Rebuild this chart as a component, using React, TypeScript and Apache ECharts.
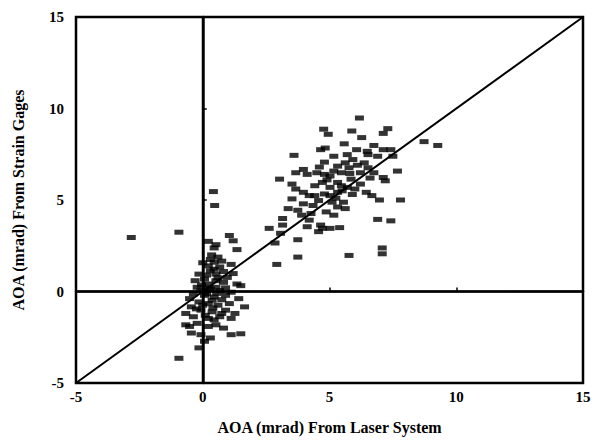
import React, { useEffect, useRef } from "react";
import * as echarts from "echarts";

const xTicks = [-5, 0, 5, 10, 15];
const yTicks = [-5, 0, 5, 10, 15];
const xLabel = "AOA (mrad) From Laser System";
const yLabel = "AOA (mrad) From Strain Gages";

// Near-zero cluster [laser, gages]
const clusterLow: number[][] = [
  [0.22, 2.74], [0.52, 2.56], [0.45, 2.38], [1.05, 3.06], [1.2, 2.77], [1.35, 2.29],
  [0.6, 1.88], [0.75, 1.66], [1.12, 1.48], [0.0, 1.57], [0.22, 1.4], [0.45, 1.22],
  [0.82, 1.09], [1.2, 0.98], [-0.15, 0.95], [0.07, 0.68], [0.52, 0.59], [0.82, 0.5],
  [1.35, 0.41], [1.5, 0.32], [-0.22, 0.23], [0.3, 0.14], [0.67, 0.05], [1.12, -0.04],
  [-0.37, -0.13], [0.07, -0.21], [0.45, -0.3], [0.9, -0.21], [-0.52, -0.39], [1.42, -0.39],
  [-0.15, -0.57], [0.22, -0.66], [0.6, -0.75], [1.05, -0.66], [1.65, -0.84], [-0.07, -1.02],
  [0.37, -1.11], [0.75, -1.2], [-0.67, -1.2], [-0.37, -1.38], [0.22, -1.47], [0.67, -1.38],
  [1.12, -1.47], [-0.67, -1.82], [-0.22, -1.74], [0.22, -1.91], [0.82, -2.0], [-0.45, -2.27],
  [-0.07, -2.36], [1.12, -2.36], [1.5, -2.31], [0.07, -2.72], [0.3, -2.54], [-0.15, -3.08],
  [-0.52, -1.91], [0.52, 0.23], [0.22, 0.41], [-0.07, 0.05], [0.15, -0.13], [0.37, -0.48],
  [0.0, -0.75], [0.9, -1.02], [1.27, -1.2], [0.52, 0.95], [0.3, 1.13], [0.67, 1.34],
  [0.97, 0.77], [-0.3, 0.59], [-0.45, -0.84], [0.52, -1.82], [0.3, 1.75], [0.15, 0.9],
  [0.6, 0.75], [0.4, -0.9], [0.1, -1.3], [0.75, -0.45], [-0.05, 0.35], [0.35, 2.0],
  [0.45, 1.6], [0.2, 0.2], [0.55, -0.1], [-0.25, -0.95], [0.45, -1.55], [0.9, 0.2],
];

// Outliers
const outliers: number[][] = [
  [-2.82, 2.95], [-0.94, 3.24], [-0.94, -3.65], [0.42, 5.46], [0.47, 4.7],
  [2.92, 1.48], [3.75, 1.88], [5.77, 1.97], [7.08, 2.38], [7.08, 2.06],
  [8.73, 8.19], [9.27, 7.98], [7.8, 5.0], [7.42, 3.86], [6.9, 3.94], [7.68, 6.58],
];

// Upper cluster
const clusterHigh: number[][] = [
  [6.18, 9.48], [7.3, 8.9], [7.12, 8.64], [5.88, 8.77], [4.77, 8.87], [4.95, 8.59],
  [6.27, 8.41], [6.75, 7.98], [7.12, 7.75], [7.42, 7.75], [5.58, 8.07], [4.83, 7.84],
  [3.6, 7.44], [4.8, 7.07], [6.07, 7.75], [6.49, 7.66], [3.03, 6.14], [3.97, 6.67],
  [3.67, 6.49], [4.12, 6.4], [4.5, 6.49], [4.8, 6.4], [3.52, 5.87], [3.67, 5.6],
  [3.97, 5.42], [4.2, 5.24], [4.42, 5.24], [4.8, 5.33], [5.02, 5.24], [3.37, 4.53],
  [3.75, 4.44], [3.15, 3.99], [2.62, 3.45], [3.07, 3.18], [2.85, 2.65], [3.75, 2.83],
  [4.2, 3.9], [4.12, 3.54], [4.65, 3.63], [4.72, 3.45], [4.57, 3.27], [5.4, 3.49],
  [4.27, 4.26], [4.87, 4.35], [5.17, 4.17], [5.32, 4.62], [5.62, 4.53], [5.1, 4.88],
  [5.55, 4.88], [5.32, 5.42], [5.7, 5.69], [6.0, 5.6], [5.85, 6.14], [6.22, 5.87],
  [6.45, 5.42], [6.67, 5.24], [6.97, 5.0], [7.2, 6.05], [7.12, 6.23], [6.52, 6.76],
  [6.75, 6.49], [6.22, 6.49], [6.37, 7.03], [5.92, 7.21], [5.62, 7.03], [5.32, 6.85],
  [5.17, 6.58], [5.02, 6.31], [5.47, 6.49], [5.77, 6.76], [5.7, 7.48], [5.17, 7.39],
  [4.65, 7.75], [6.52, 7.48], [6.9, 7.39], [7.5, 7.39], [4.72, 5.96], [4.42, 5.78],
  [5.32, 5.96], [5.47, 5.78], [5.02, 5.69], [4.57, 4.97], [4.35, 4.7], [3.97, 4.79],
  [3.52, 5.06], [3.15, 3.63], [3.9, 4.17], [5.02, 3.45], [5.9, 5.3], [6.1, 6.9],
  [5.5, 5.5], [4.9, 6.1], [6.6, 6.2], [5.25, 5.1], [4.6, 6.8], [5.8, 6.45],
];

const diagonal: number[][] = [[-5, -5], [15, 15]];
const zeroV: number[][] = [[0, -5], [0, 15]];
const zeroH: number[][] = [[-5, 0], [15, 0]];

const FONT = "Liberation Serif";

export default function App() {
  const ref = useRef<HTMLDivElement>(null);
  useEffect(() => {
    if (!ref.current) return;
    const chart = echarts.init(ref.current, undefined, { renderer: "svg" });
    const marker = {
      type: "scatter" as const,
      symbol: "rect",
      symbolSize: [9, 5],
      itemStyle: { color: "#000" },
      z: 3,
    };
    const line = (data: number[][]) => ({
      type: "line" as const,
      data,
      symbol: "none",
      lineStyle: { color: "#000", width: 2 },
      z: 2,
    });
    chart.setOption({
      animation: false,
      backgroundColor: "#fff",
      grid: {
        left: 68,
        right: 23,
        top: 9,
        bottom: 61,
        containLabel: false,
        outerBoundsMode: "none",
        show: true,
        borderColor: "#000",
        borderWidth: 2.5,
      },
      xAxis: {
        type: "value",
        min: xTicks[0],
        max: xTicks[xTicks.length - 1],
        interval: 5,
        name: xLabel,
        nameLocation: "middle",
        nameGap: 36,
        nameTextStyle: { fontFamily: FONT, fontWeight: "bold", fontSize: 16, color: "#000" },
        axisLine: { lineStyle: { color: "#000", width: 2.5 } },
        axisTick: { inside: true, length: 4, lineStyle: { color: "#000", width: 1.5 } },
        axisLabel: { fontFamily: FONT, fontWeight: "bold", fontSize: 15, color: "#000", margin: 6 },
        splitLine: { show: false },
      },
      yAxis: {
        type: "value",
        min: yTicks[0],
        max: yTicks[yTicks.length - 1],
        interval: 5,
        name: yLabel,
        nameLocation: "middle",
        nameGap: 50,
        nameTextStyle: { fontFamily: FONT, fontWeight: "bold", fontSize: 16, color: "#000" },
        axisLine: { lineStyle: { color: "#000", width: 2.5 } },
        axisTick: { inside: true, length: 4, lineStyle: { color: "#000", width: 1.5 } },
        axisLabel: { fontFamily: FONT, fontWeight: "bold", fontSize: 15, color: "#000", margin: 12 },
        splitLine: { show: false },
      },
      series: [
        line(diagonal),
        line(zeroV),
        line(zeroH),
        { ...marker, data: clusterLow },
        { ...marker, data: clusterHigh },
        { ...marker, data: outliers },
      ],
    });
    return () => chart.dispose();
  }, []);
  return <div ref={ref} style={{ width: 598, height: 436 }} />;
}
